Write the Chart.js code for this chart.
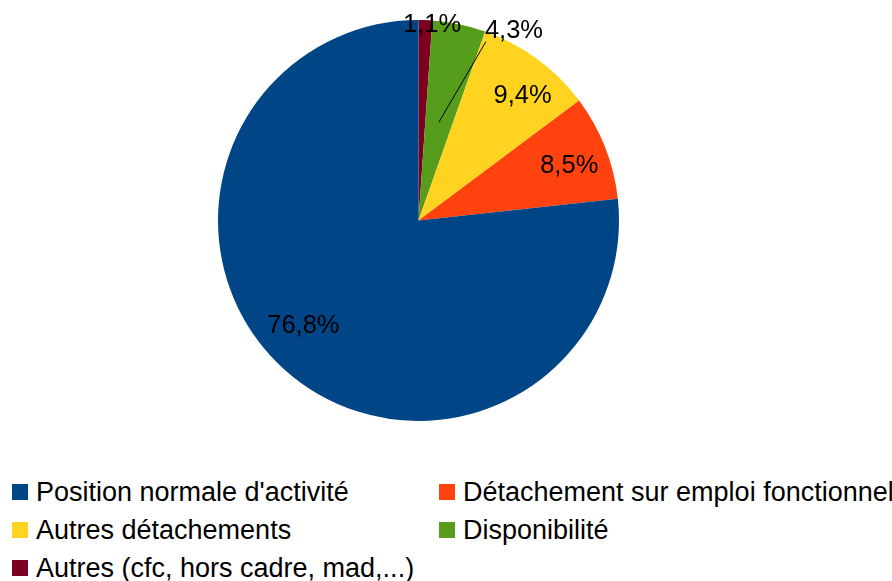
<!DOCTYPE html>
<html>
<head>
<meta charset="utf-8">
<script src="https://cdn.jsdelivr.net/npm/chart.js@4/dist/chart.umd.min.js"></script>
<style>
    body { margin: 0; background: #fff; font-family: "Liberation Sans", Arial, sans-serif; }
    #wrap { position: relative; width: 892px; height: 581px; }
    #pie { position: absolute; left: 0; top: 0; }
    .item { position: absolute; height: 38px; display: flex; align-items: center; font-size: 27px; color: #000; white-space: nowrap; }
    .box { width: 16px; height: 16px; margin-right: 8px; flex: none; }
</style>
</head>
<body>
<div id="wrap">
    <canvas id="pie" width="892" height="440"></canvas>
    <div id="legend"></div>
</div>
<script>
// legend order (as in the reference)
const categories = [
    "Position normale d'activité",
    "Détachement sur emploi fonctionnel",
    "Autres détachements",
    "Disponibilité",
    "Autres (cfc, hors cadre, mad,...)"
];
const shares = [76.8, 8.5, 9.4, 4.3, 1.1];
const colors = ["#004586", "#ff420e", "#ffd320", "#579d1c", "#7e0021"];

// label placement per slice (legend order): radius factor, angle shift in degrees
const labelRadius = [0.78, 0.80, 0.81, 1.06, 0.98];
const labelShift = [5.5, 1.5, 3.5, 15, 2];
const leader = [false, false, false, true, false];

// the reference runs counter-clockwise from the top, Chart.js runs clockwise,
// so feed it the reversed lists
const order = categories.map((c, i) => i).reverse();

const pieLabels = {
    id: 'pieLabels',
    afterDatasetsDraw(chart) {
        const ctx = chart.ctx;
        const meta = chart.getDatasetMeta(0);
        ctx.save();
        ctx.font = '25.5px "Liberation Sans", Arial, sans-serif';
        ctx.fillStyle = '#000';
        ctx.textAlign = 'center';
        ctx.textBaseline = 'middle';
        meta.data.forEach(function(arc, j) {
            const i = order[j];
            const p = arc.getProps(['x', 'y', 'startAngle', 'endAngle', 'outerRadius'], true);
            const mid = (p.startAngle + p.endAngle) / 2;
            const a = mid + labelShift[i] * Math.PI / 180;
            const r = p.outerRadius * labelRadius[i];
            const lx = p.x + Math.cos(a) * r;
            const ly = p.y + Math.sin(a) * r;
            const text = shares[i].toFixed(1).replace('.', ',') + '%';
            ctx.fillText(text, lx, ly);
            if (leader[i]) {
                const w = ctx.measureText(text).width;
                ctx.strokeStyle = '#000';
                ctx.lineWidth = 1;
                ctx.beginPath();
                ctx.moveTo(p.x + Math.cos(mid) * p.outerRadius * 0.5, p.y + Math.sin(mid) * p.outerRadius * 0.5);
                ctx.lineTo(lx - w / 2 + 1, ly + 11);
                ctx.stroke();
            }
        });
        ctx.restore();
    }
};

new Chart(document.getElementById('pie'), {
    type: 'pie',
    data: {
        labels: order.map(i => categories[i]),
        datasets: [{
            data: order.map(i => shares[i]),
            backgroundColor: order.map(i => colors[i]),
            borderWidth: 0
        }]
    },
    options: {
        responsive: false,
        devicePixelRatio: 1,
        animation: false,
        layout: { padding: { left: 218, right: 273, top: 20, bottom: 19 } },
        plugins: {
            legend: { display: false },
            tooltip: { enabled: false }
        }
    },
    plugins: [pieLabels]
});

// legend, two columns like the reference
const legendX = [12, 439];
const legendY = [473, 511, 549];
const legend = document.getElementById('legend');
categories.forEach(function(name, i) {
    const item = document.createElement('div');
    item.className = 'item';
    item.style.left = legendX[i % 2] + 'px';
    item.style.top = legendY[Math.floor(i / 2)] + 'px';
    item.innerHTML = '<span class="box" style="background:' + colors[i] + '"></span>' + name;
    legend.appendChild(item);
});
</script>
</body>
</html>
